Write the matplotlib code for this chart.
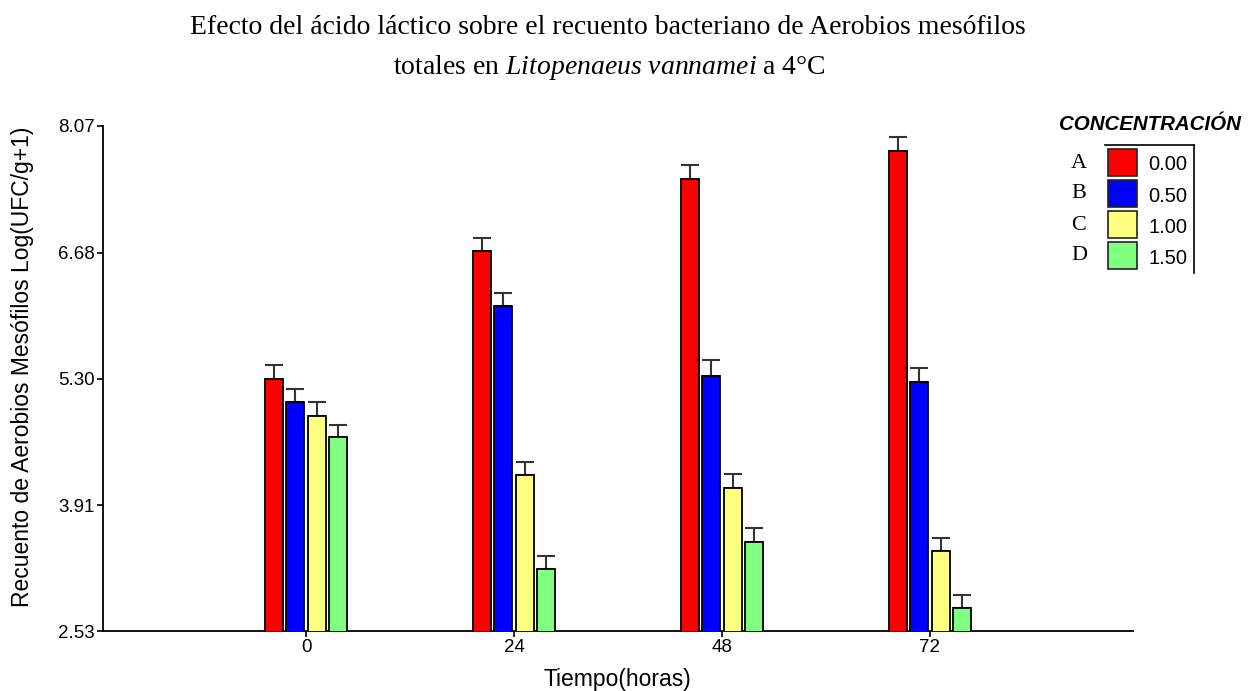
import numpy as np
import matplotlib.pyplot as plt
from matplotlib.patches import Rectangle
from matplotlib.lines import Line2D

plt.rcParams['font.family'] = ['Liberation Sans', 'DejaVu Sans']
plt.rcParams['mathtext.fontset'] = 'custom'
plt.rcParams['mathtext.rm'] = 'Liberation Serif'
plt.rcParams['mathtext.it'] = 'Liberation Serif:italic'

tiempos = ['0', '24', '48', '72']
concentraciones = ['0.00', '0.50', '1.00', '1.50']
letras = ['A', 'B', 'C', 'D']
colores = ['#FF0000', '#0000FF', '#FFFF80', '#80FF80']

# log(UFC/g+1) por concentracion, en cada tiempo
medias = [
    [5.30, 6.70, 7.49, 7.80],   # 0.00
    [5.04, 6.09, 5.33, 5.26],   # 0.50
    [4.89, 4.24, 4.10, 3.41],   # 1.00
    [4.66, 3.21, 3.51, 2.78],   # 1.50
]
errores = [
    [0.15, 0.14, 0.15, 0.15],
    [0.15, 0.15, 0.17, 0.15],
    [0.15, 0.14, 0.15, 0.14],
    [0.13, 0.14, 0.15, 0.14],
]
yticks = [2.53, 3.91, 5.30, 6.68, 8.07]

W, H = 1249, 691
fig = plt.figure(figsize=(W / 100, H / 100), dpi=100)
ax = fig.add_axes([103 / W, 1 - 631 / H, (1133 - 103) / W, (631 - 126) / H])

x = np.arange(len(tiempos))
paso = 0.102
ancho = 0.086
for i in range(len(concentraciones)):
    pos = x + (i - 1.5) * paso
    ax.bar(pos, medias[i], width=ancho, bottom=0, color=colores[i],
           edgecolor='black', linewidth=1.3, zorder=3)
    ax.errorbar(pos, medias[i], yerr=[np.zeros(4), errores[i]], fmt='none',
                ecolor='#333333', elinewidth=1.5, capsize=6.5, capthick=1.5, zorder=2)

ax.set_ylim(2.53, 8.07)
ax.set_xlim(-0.976, 3.976)
ax.set_yticks(yticks)
ax.set_yticklabels(['%.2f' % v for v in yticks])
ax.set_xticks(x)
ax.set_xticklabels(tiempos)
ax.spines['top'].set_visible(False)
ax.spines['right'].set_visible(False)
ax.spines['left'].set_linewidth(1.3)
ax.spines['bottom'].set_linewidth(1.3)
ax.tick_params(axis='both', labelsize=13.5, width=1.2, length=4, pad=2)
ax.set_xlabel('Tiempo(horas)', fontsize=16.5)
ax.set_ylabel('Recuento de Aerobios Mesófilos Log(UFC/g+1)', fontsize=16.5)
ax.xaxis.set_label_coords(0.499, -0.097)
ax.yaxis.set_label_coords(-0.078, 0.523)
ax.xaxis.label.set_va('center')
ax.yaxis.label.set_va('center')

# titulo
fig.text(0.487, 1 - 28 / H, 'Efecto del ácido láctico sobre el recuento bacteriano de Aerobios mesófilos',
         ha='center', va='center', fontsize=20, family='Liberation Serif')
fig.text(0.488, 1 - 68 / H, r'totales en $\mathit{Litopenaeus\ vannamei}$ a 4°C',
         ha='center', va='center', fontsize=20, family='Liberation Serif')

# leyenda
fig.text(1150 / W, 1 - 125 / H, 'CONCENTRACIÓN', ha='center', va='center',
         fontsize=14.8, weight='bold', style='italic')
fig.add_artist(Line2D([1105 / W, 1194 / W], [1 - 145 / H, 1 - 145 / H], color='black', lw=1.2))
fig.add_artist(Line2D([1194 / W, 1194 / W], [1 - 145 / H, 1 - 273 / H], color='black', lw=1.2))
for i in range(len(concentraciones)):
    ytop = 149 + i * 31
    fig.add_artist(Rectangle((1108 / W, 1 - (ytop + 27) / H), 29 / W, 27 / H,
                             facecolor=colores[i], edgecolor='#222222', lw=1.2))
    fig.text(1079 / W, 1 - (ytop + 14) / H, letras[i], ha='center', va='center',
             fontsize=16, family='Liberation Serif')
    fig.text(1148 / W, 1 - (ytop + 16) / H, concentraciones[i], ha='left', va='center',
             fontsize=14.5)

fig.savefig('out.png', dpi=100)
